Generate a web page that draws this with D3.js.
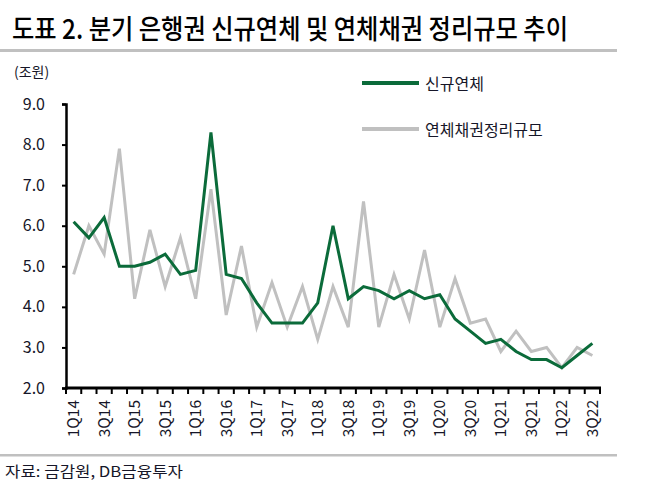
<!DOCTYPE html>
<html>
<head>
<meta charset="utf-8">
<script src="https://cdn.jsdelivr.net/npm/d3@7"></script>
<style>
  body { margin: 0; background: #fff; }
  svg text { font-family: "Noto Sans CJK KR", "Liberation Sans", sans-serif; }
</style>
</head>
<body>
<svg id="chart" width="656" height="499"></svg>
<script>
// --- 데이터 ---
const quarters = [
  "1Q14","2Q14","3Q14","4Q14","1Q15","2Q15","3Q15","4Q15",
  "1Q16","2Q16","3Q16","4Q16","1Q17","2Q17","3Q17","4Q17",
  "1Q18","2Q18","3Q18","4Q18","1Q19","2Q19","3Q19","4Q19",
  "1Q20","2Q20","3Q20","4Q20","1Q21","2Q21","3Q21","4Q21",
  "1Q22","2Q22","3Q22"
];
const newDelinq = [
  6.1, 5.7, 6.2, 5.0, 5.0, 5.1, 5.3, 4.8,
  4.9, 8.3, 4.8, 4.7, 4.1, 3.6, 3.6, 3.6,
  4.1, 6.0, 4.2, 4.5, 4.4, 4.2, 4.4, 4.2,
  4.3, 3.7, 3.4, 3.1, 3.2, 2.9, 2.7, 2.7,
  2.5, 2.8, 3.1
];
const writeOff = [
  4.8, 6.0, 5.3, 7.9, 4.2, 5.9, 4.5, 5.7,
  4.2, 6.9, 3.8, 5.5, 3.5, 4.6, 3.5, 4.5,
  3.2, 4.5, 3.5, 6.6, 3.5, 4.8, 3.7, 5.4,
  3.5, 4.7, 3.6, 3.7, 2.9, 3.4, 2.9, 3.0,
  2.5, 3.0, 2.8
];
const yTicks = [2, 3, 4, 5, 6, 7, 8, 9];
const seriesNames = ["신규연체", "연체채권정리규모"];
const seriesColors = ["#0b6b3a", "#c0c0c0"];

const svg = d3.select("#chart");
const textColor = "#161628";

// --- 제목 ---
svg.append("text")
    .attr("x", 12).attr("y", 39)
    .attr("font-size", 27)
    .attr("font-weight", 500)
    .attr("fill", "#000")
    .attr("textLength", 556)
    .attr("lengthAdjust", "spacingAndGlyphs")
    .text("도표 2. 분기 은행권 신규연체 및 연체채권 정리규모 추이");

svg.append("rect").attr("x", 0).attr("y", 49).attr("width", 617).attr("height", 3).attr("fill", "#c0c0c0");
svg.append("rect").attr("x", 0).attr("y", 454).attr("width", 617).attr("height", 2.5).attr("fill", "#c0c0c0");

svg.append("text")
    .attr("x", 5).attr("y", 477)
    .attr("font-size", 15)
    .attr("fill", textColor)
    .attr("textLength", 178)
    .attr("lengthAdjust", "spacingAndGlyphs")
    .text("자료: 금감원, DB금융투자");

svg.append("text")
    .attr("x", 14).attr("y", 77)
    .attr("font-size", 14)
    .attr("fill", textColor)
    .text("(조원)");

// --- 스케일 ---
const x = d3.scaleBand().domain(quarters).range([66, 600]);
const y = d3.scaleLinear().domain([2, 9]).range([388, 104]);

// y축
const yAxis = svg.append("g")
    .attr("transform", "translate(66,0)")
    .call(d3.axisLeft(y).tickValues(yTicks).tickFormat(d3.format(".1f")).tickSize(4).tickPadding(17));
yAxis.select(".domain").attr("stroke", "#000").attr("stroke-width", 2.5);
yAxis.selectAll(".tick line").attr("stroke", "#000").attr("stroke-width", 2);
yAxis.selectAll(".tick text")
    .attr("font-size", 16)
    .attr("fill", textColor)
    .attr("font-family", "'Liberation Sans', sans-serif");

// 선
const line = d3.line()
    .x((d, i) => x(quarters[i]) + x.bandwidth() / 2)
    .y(d => y(d));

[writeOff, newDelinq].forEach((vals, k) => {
    svg.append("path")
        .datum(vals)
        .attr("d", line)
        .attr("fill", "none")
        .attr("stroke", k === 0 ? seriesColors[1] : seriesColors[0])
        .attr("stroke-width", 3)
        .attr("stroke-linejoin", "miter");
});

// x축 (눈금은 구간 경계마다)
const xg = svg.append("g").attr("transform", "translate(0,388)");
xg.append("line")
    .attr("x1", 65).attr("x2", 601)
    .attr("stroke", "#000").attr("stroke-width", 3);
const bounds = quarters.map(q => x(q)).concat([x.range()[1]]);
xg.selectAll(".tk").data(bounds).join("line")
    .attr("class", "tk")
    .attr("x1", d => d).attr("x2", d => d)
    .attr("y1", 0).attr("y2", 6)
    .attr("stroke", "#000").attr("stroke-width", 2);
xg.selectAll(".lbl").data(quarters.filter((q, i) => i % 2 === 0)).join("text")
    .attr("class", "lbl")
    .attr("transform", d => `translate(${x(d) + x.bandwidth() / 2 + 5.5},12) rotate(-90)`)
    .attr("text-anchor", "end")
    .attr("font-size", 15.5)
    .attr("font-family", "'Liberation Sans', sans-serif")
    .attr("fill", textColor)
    .text(d => d);

// --- 범례 ---
seriesNames.forEach((name, i) => {
    const ly = 83 + i * 46;
    svg.append("line")
        .attr("x1", 362).attr("x2", 419)
        .attr("y1", ly).attr("y2", ly)
        .attr("stroke", seriesColors[i]).attr("stroke-width", 4);
    svg.append("text")
        .attr("x", 425).attr("y", ly + 7)
        .attr("font-size", 16)
        .attr("fill", textColor)
        .text(name);
});
</script>
</body>
</html>
